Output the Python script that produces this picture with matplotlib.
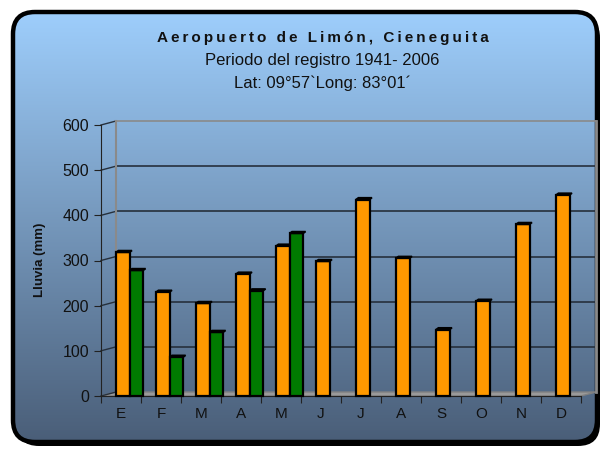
import numpy as np
import matplotlib.pyplot as plt
from matplotlib.patches import FancyBboxPatch, Polygon

months = ['E', 'F', 'M', 'A', 'M', 'J', 'J', 'A', 'S', 'O', 'N', 'D']
# orange series: every month; green series: only Jan-May
lluvia_a = [318, 230, 205, 270, 332, 298, 435, 305, 147, 210, 380, 445]
lluvia_b = [278, 86, 141, 233, 360]

plt.rcParams['font.family'] = ['Liberation Sans', 'DejaVu Sans']

fig = plt.figure(figsize=(6.05, 4.5), dpi=100)

# background with rounded frame and gradient
bg = fig.add_axes([0, 0, 1, 1])
bg.set_xlim(0, 605)
bg.set_ylim(450, 0)
bg.axis('off')
shadow = FancyBboxPatch((17, 16), 583, 430, boxstyle='round,pad=0,rounding_size=22',
                        fc='black', ec='black', lw=0)
bg.add_patch(shadow)
frame = FancyBboxPatch((13, 12), 584, 430, boxstyle='round,pad=0,rounding_size=22',
                       fc='none', ec='black', lw=3.2, zorder=3)
bg.add_patch(frame)
grad = np.linspace(0, 1, 256).reshape(-1, 1)
top = np.array([0x9e, 0xce, 0xfc]) / 255
bot = np.array([0x4a, 0x5e, 0x78]) / 255
img = top + (bot - top) * grad[..., None]
im = bg.imshow(img, extent=[13, 597, 442, 12], aspect='auto', zorder=2)
im.set_clip_path(frame)

# titles (first line is letter-spaced with thin spaces)
title = 'Aeropuerto de Limón, Cieneguita'
spaced = '\u2009'.join(title)
fig.text(0.533, 0.916, spaced, ha='center', va='center',
         fontsize=11, fontweight='bold', color='#111111')
fig.text(0.533, 0.866, 'Periodo del registro 1941- 2006', ha='center', va='center',
         fontsize=12, color='#111111')
fig.text(0.533, 0.815, 'Lat: 09°57`Long: 83°01´', ha='center', va='center',
         fontsize=12, color='#111111')

ax = fig.add_axes([101/605, 1-396/450, 480/605, 271/450])
ax.set_facecolor('none')
ax.set_xlim(0, 12)
ax.set_ylim(0, 600)

dx, dy = 0.375, 8.85  # depth offset of the back wall

# floor and back wall
floor = Polygon([(0, 0), (12, 0), (12+dx, dy), (dx, dy)], closed=True,
                fc='#9a9a9a', ec='#808080', lw=1, clip_on=False, zorder=1)
ax.add_patch(floor)
for v in range(100, 601, 100):
    c = '#26303c' if v < 600 else '#8a8a8a'
    ax.plot([dx, 12+dx], [v+dy, v+dy], color=c, lw=1.2, clip_on=False, zorder=1)
for v in range(0, 601, 100):
    ax.plot([0, dx], [v, v+dy], color='#26303c', lw=1, clip_on=False, zorder=1)
ax.plot([dx, dx], [dy, 600+dy], color='#8a8a8a', lw=1.5, clip_on=False, zorder=1)
ax.plot([12+dx, 12+dx], [dy, 600+dy], color='#8a8a8a', lw=2, clip_on=False, zorder=1)

# bars
w = 0.34
def draw_bar(x0, h, color):
    ax.bar(x0, h, width=w, align='edge', color=color, edgecolor='black',
           lw=1.6, zorder=3, clip_on=False)
    cap = Polygon([(x0, h), (x0+0.06, h+4), (x0+w+0.06, h+4), (x0+w, h)],
                  closed=True, fc='black', ec='black', lw=1.2, zorder=3, clip_on=False)
    ax.add_patch(cap)

for i, v in enumerate(lluvia_a):
    draw_bar(i + dx, v, '#ff9900')
for i, v in enumerate(lluvia_b):
    draw_bar(i + dx + w, v, '#007a00')

for s in ['top', 'right']:
    ax.spines[s].set_visible(False)
ax.spines['left'].set_color('#222222')
ax.spines['bottom'].set_color('#222222')
ax.set_yticks(range(0, 601, 100))
ax.tick_params(axis='y', labelsize=11.5, length=5, color='#222222', labelcolor='#111111')
ax.set_xticks(range(13))
ax.set_xticklabels([])
ax.set_xticks(np.arange(12) + 0.5, minor=True)
ax.set_xticklabels(months, minor=True)
ax.tick_params(axis='x', which='major', length=5, color='#222222')
ax.tick_params(axis='x', which='minor', length=0, labelsize=11, pad=8, labelcolor='#111111')

fig.text(40/605, 1-260/450, 'Lluvia (mm)', rotation=90, ha='center', va='center',
         fontsize=9.5, fontweight='bold', color='#111111')

fig.savefig('out.png', dpi=100)
